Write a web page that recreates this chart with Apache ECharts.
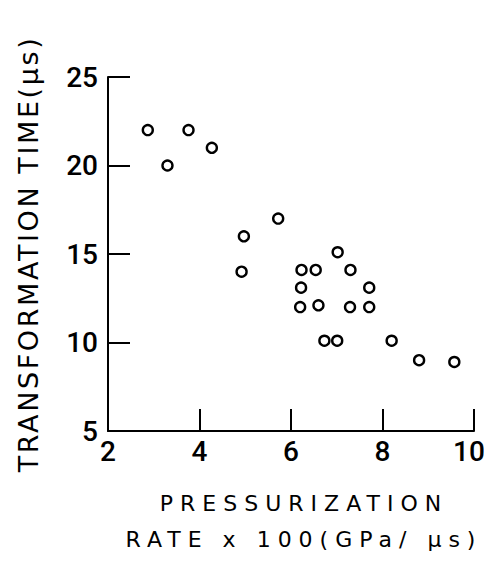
<!DOCTYPE html>
<html>
<head>
<meta charset="utf-8">
<script src="https://cdn.jsdelivr.net/npm/echarts@6/dist/echarts.min.js"></script>
<style>
  html, body { margin: 0; padding: 0; background: #fff; }
  #main { width: 484px; height: 563px; }
  /* spaced lettering of the axis titles */
  #main svg text[style*="27px"] { letter-spacing: 2.6px; }
  #main svg text[style*="22px"] { letter-spacing: 7px; }
</style>
</head>
<body>
<div id="main"></div>
<script>
const rate = [2.87, 3.76, 3.30, 4.27, 5.72, 4.97, 4.92, 7.02, 6.23, 6.54, 7.30,
  6.22, 7.71, 6.20, 6.60, 7.29, 7.71, 6.73, 7.01, 8.20, 8.80, 9.57];
const time = [22, 22, 20, 21, 17, 16, 14, 15.1, 14.1, 14.1, 14.1,
  13.1, 13.1, 12, 12.1, 12, 12, 10.1, 10.1, 10.1, 9, 8.9];

const xTitle = "PRESSURIZATION\nRATE x 100(GPa/ μs)";
const yTitle = "TRANSFORMATION TIME(μs)";

const chart = echarts.init(document.getElementById("main"), null, { renderer: "svg" });

const font = "DejaVu Sans";
const tickFont = { color: "#000", fontSize: 28, fontFamily: "Roboto", fontWeight: 500 };
const axisCommon = {
  axisLine: { lineStyle: { color: "#000", width: 2 } },
  axisTick: { inside: true, length: 22, lineStyle: { color: "#000", width: 2 } },
  splitLine: { show: false },
};

const option = {
  backgroundColor: "#fff",
  animation: false,
  grid: {
    left: 108,
    right: 10,
    top: 77,
    bottom: 132,
    containLabel: false,
    outerBoundsMode: "none",
  },
  xAxis: {
    type: "value",
    min: 2,
    max: 10,
    interval: 2,
    ...axisCommon,
    axisLabel: {
      ...tickFont,
      margin: 6,
      // last label sits at the right edge of the page
      formatter: (v) => (v === 10 ? "{r|" + v + "}" : String(v)),
      rich: { r: { ...tickFont, padding: [0, 10, 0, 0] } },
    },
    name: xTitle,
    nameLocation: "middle",
    nameGap: 54,
    nameMoveOverlap: false,
    nameTextStyle: {
      color: "#000",
      fontSize: 22,
      fontFamily: font,
      lineHeight: 36,
      padding: [0, 0, 0, 26],
    },
  },
  yAxis: {
    type: "value",
    min: 5,
    max: 25,
    interval: 5,
    ...axisCommon,
    axisLabel: { ...tickFont, margin: 10 },
    name: yTitle,
    nameLocation: "middle",
    nameRotate: 90,
    nameGap: 66,
    nameMoveOverlap: false,
    nameTextStyle: { color: "#000", fontSize: 27, fontFamily: font },
  },
  series: [
    {
      type: "scatter",
      data: rate.map((x, i) => [x, time[i]]),
      symbol: "circle",
      symbolSize: 10,
      itemStyle: { color: "#fff", borderColor: "#000", borderWidth: 2.4, opacity: 1 },
    },
  ],
};

chart.setOption(option);
</script>
</body>
</html>
